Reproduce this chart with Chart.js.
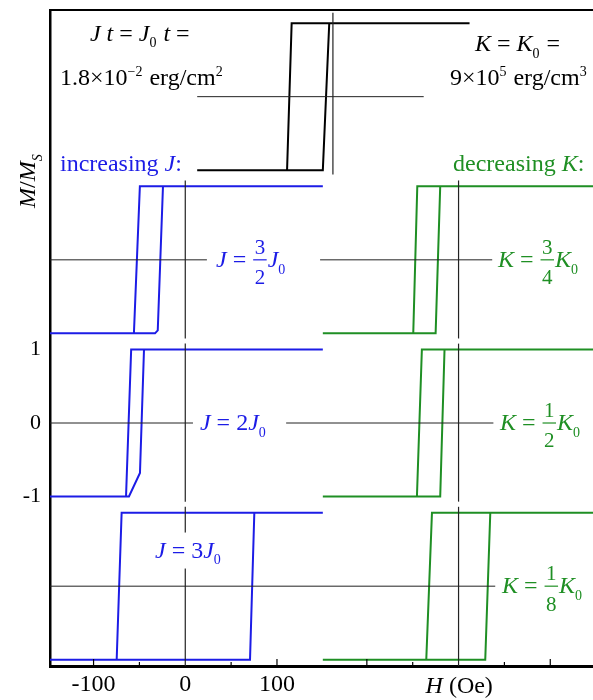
<!DOCTYPE html>
<html>
<head>
<meta charset="utf-8">
<script src="https://cdn.jsdelivr.net/npm/chart.js@4.4.1/dist/chart.umd.min.js"></script>
<style>
  html, body { margin: 0; padding: 0; background: #fff; }
</style>
</head>
<body>
<canvas id="loops" width="593" height="700"></canvas>
<script>
// vertical spacing between stacked panels (M/Ms units) and field offsets of the columns (Oe)
const ROW_STEP = 2.22;
const COL_MID = 161;
const COL_RIGHT = 298;

// hysteresis loops, points are [H (Oe), M/Ms]
const loopRef = [[149, 1], [-45, 1], [-50, -1], [-148, -1], [-11, -1], [-4, 1], [149, 1]];

const loopJ32 = [[150, 1], [-49.5, 1], [-56, -1], [-148, -1], [-33, -1], [-30, -0.96], [-24.3, 1], [150, 1]];
const loopJ2 = [[150, 1], [-59, 1], [-64.6, -1], [-148, -1], [-61.4, -1], [-49.4, -0.68], [-45, 1], [150, 1]];
const loopJ3 = [[150, 1], [-69.4, 1], [-74.8, -1], [-148, -1], [70.6, -1], [75.3, 1], [150, 1]];

const loopK34 = [[150, 1], [-45, 1], [-49.4, -1], [-148, -1], [-25, -1], [-20, 1], [150, 1]];
const loopK12 = [[150, 1], [-40, 1], [-45.4, -1], [-148, -1], [-20, -1], [-15.3, 1], [150, 1]];
const loopK18 = [[150, 1], [-29, 1], [-35.2, -1], [-148, -1], [29.1, -1], [34.6, 1], [150, 1]];

// zero axes of each panel: [row, H from, H to] and [row, H, M from, M to]
const zeroH = [
  [2, -148 + COL_MID, 99 + COL_MID],
  [1, -148, 23.6], [1, 147, 36.7 + COL_RIGHT],
  [0, -148, 8.4], [0, 110, 38 + COL_RIGHT],
  [-1, -148, 40 + COL_RIGHT]
];
const zeroV = [
  [2, COL_MID, -1.06, 1.14],
  [1, 0, -1.07, 1.08], [1, COL_RIGHT, -1.07, 1.08],
  [0, 0, -1.07, 1.08], [0, COL_RIGHT, -1.07, 1.08],
  [-1, 0, -1.09, 1.08], [-1, COL_RIGHT, -1.09, 1.08]
];

// axis ticks
const xTickLabels = [-100, 0, 100];
const xTicksMajor = [-100, 100, COL_RIGHT - 100, COL_RIGHT + 100];
const xTicksMinor = [-50, 50, COL_RIGHT - 50, COL_RIGHT + 50];
const yTickLabels = [-1, 0, 1];

const X_MIN = -147.5, X_MAX = 444.6;
const Y_MIN = -3.306, Y_MAX = 5.619;

const BLACK = "#000000";
const BLUE = "#1c1ce6";
const GREEN = "#1f8f24";
const SERIF = '"Liberation Serif", "DejaVu Serif", serif';

function loopData(points, col, row) {
  return points.map(p => ({ x: p[0] + col, y: p[1] + row * ROW_STEP }));
}

function lineSet(data, color, width) {
  return {
    data: data,
    showLine: true,
    borderColor: color,
    borderWidth: width,
    pointRadius: 0,
    tension: 0,
    fill: false
  };
}

const datasets = [];

zeroH.forEach(z => {
  datasets.push(lineSet([{ x: z[1], y: z[0] * ROW_STEP }, { x: z[2], y: z[0] * ROW_STEP }], "#222", 1));
});
zeroV.forEach(z => {
  datasets.push(lineSet([{ x: z[1], y: z[2] + z[0] * ROW_STEP }, { x: z[1], y: z[3] + z[0] * ROW_STEP }], "#222", 1.2));
});

datasets.push(lineSet(loopData(loopRef, COL_MID, 2), BLACK, 2));
datasets.push(lineSet(loopData(loopJ32, 0, 1), BLUE, 2));
datasets.push(lineSet(loopData(loopJ2, 0, 0), BLUE, 2));
datasets.push(lineSet(loopData(loopJ3, 0, -1), BLUE, 2));
datasets.push(lineSet(loopData(loopK34, COL_RIGHT, 1), GREEN, 2));
datasets.push(lineSet(loopData(loopK12, COL_RIGHT, 0), GREEN, 2));
datasets.push(lineSet(loopData(loopK18, COL_RIGHT, -1), GREEN, 2));

// text pieces: t = upright, i = italic, sub / sup, frac = [num, den]
const notes = [
  { x: -104, y: 5.30, color: BLACK, runs: [["i", "J"], ["t", " "], ["i", "t"], ["t", " = "], ["i", "J"], ["sub", "0"], ["t", " "], ["i", "t"], ["t", " ="]] },
  { x: -136.6, y: 4.70, color: BLACK, runs: [["t", "1.8×10"], ["sup", "−2"], ["t", " erg/cm"], ["sup", "2"]] },
  { x: 316, y: 5.16, color: BLACK, runs: [["i", "K"], ["t", " = "], ["i", "K"], ["sub", "0"], ["t", " ="]] },
  { x: 288.6, y: 4.69, color: BLACK, runs: [["t", "9×10"], ["sup", "5"], ["t", " erg/cm"], ["sup", "3"]] },
  { x: -136.6, y: 3.53, color: BLUE, runs: [["t", "increasing "], ["i", "J"], ["t", ":"]] },
  { x: 292, y: 3.53, color: GREEN, runs: [["t", "decreasing "], ["i", "K"], ["t", ":"]] },
  { x: 33.5, y: ROW_STEP, color: BLUE, runs: [["i", "J"], ["t", " = "], ["frac", "3", "2"], ["i", "J"], ["sub", "0"]] },
  { x: 341, y: ROW_STEP, color: GREEN, runs: [["i", "K"], ["t", " = "], ["frac", "3", "4"], ["i", "K"], ["sub", "0"]] },
  { x: 16, y: 0, color: BLUE, runs: [["i", "J"], ["t", " = 2"], ["i", "J"], ["sub", "0"]] },
  { x: 343.2, y: 0, color: GREEN, runs: [["i", "K"], ["t", " = "], ["frac", "1", "2"], ["i", "K"], ["sub", "0"]] },
  { x: -33, y: -1.735, color: BLUE, bg: true, runs: [["i", "J"], ["t", " = 3"], ["i", "J"], ["sub", "0"]] },
  { x: 345.4, y: -ROW_STEP, color: GREEN, runs: [["i", "K"], ["t", " = "], ["frac", "1", "8"], ["i", "K"], ["sub", "0"]] }
];

const TEXT_SIZE = 24;

function fontFor(kind, size) {
  if (kind === "i") return "italic " + size + "px " + SERIF;
  if (kind === "sub" || kind === "sup") return Math.round(size * 0.6) + "px " + SERIF;
  if (kind === "subi") return "italic " + Math.round(size * 0.6) + "px " + SERIF;
  if (kind === "frac") return Math.round(size * 0.86) + "px " + SERIF;
  return size + "px " + SERIF;
}

function runWidth(ctx, r, size) {
  ctx.font = fontFor(r[0], size);
  if (r[0] === "frac") {
    return Math.max(ctx.measureText(r[1]).width, ctx.measureText(r[2]).width) + 5;
  }
  return ctx.measureText(r[1]).width + (r[0] === "sup" || r[0] === "sub" ? 1 : 0);
}

function drawRuns(ctx, runs, x, y, size, color, bg) {
  const widths = runs.map(r => runWidth(ctx, r, size));
  const total = widths.reduce((a, b) => a + b, 0);
  if (bg) {
    ctx.fillStyle = "#fff";
    ctx.fillRect(x - 2, y - size * 0.75, total + 4, size * 1.5);
  }
  ctx.fillStyle = color;
  ctx.strokeStyle = color;
  ctx.textAlign = "left";
  ctx.textBaseline = "alphabetic";
  const base = y + size * 0.3;
  let cx = x;
  runs.forEach((r, i) => {
    ctx.font = fontFor(r[0], size);
    if (r[0] === "sub" || r[0] === "subi") {
      ctx.fillText(r[1], cx, base + size * 0.28);
    } else if (r[0] === "sup") {
      ctx.fillText(r[1], cx, base - size * 0.38);
    } else if (r[0] === "frac") {
      const w = widths[i];
      ctx.lineWidth = 1.2;
      ctx.beginPath();
      ctx.moveTo(cx + 1, y);
      ctx.lineTo(cx + w - 1, y);
      ctx.stroke();
      ctx.textAlign = "center";
      ctx.fillText(r[1], cx + w / 2, y - 6);
      ctx.fillText(r[2], cx + w / 2, y + size * 1.02);
      ctx.textAlign = "left";
    } else {
      ctx.fillText(r[1], cx, base);
    }
    cx += widths[i];
  });
}

const decorations = {
  id: "decorations",
  afterDraw(chart) {
    const ctx = chart.ctx;
    const xs = chart.scales.x;
    const ys = chart.scales.y;
    const area = chart.chartArea;
    ctx.save();

    // top frame line
    ctx.strokeStyle = BLACK;
    ctx.lineWidth = 2;
    ctx.beginPath();
    ctx.moveTo(area.left, area.top);
    ctx.lineTo(area.right, area.top);
    ctx.stroke();

    // inward tick marks on the field axis
    ctx.lineWidth = 1.2;
    xTicksMajor.forEach(v => {
      const px = xs.getPixelForValue(v);
      ctx.beginPath();
      ctx.moveTo(px, area.bottom);
      ctx.lineTo(px, area.bottom - 7);
      ctx.stroke();
    });
    xTicksMinor.forEach(v => {
      const px = xs.getPixelForValue(v);
      ctx.beginPath();
      ctx.moveTo(px, area.bottom);
      ctx.lineTo(px, area.bottom - 4);
      ctx.stroke();
    });

    notes.forEach(n => {
      drawRuns(ctx, n.runs, xs.getPixelForValue(n.x), ys.getPixelForValue(n.y), TEXT_SIZE, n.color, n.bg);
    });

    // axis titles
    drawRuns(ctx, [["i", "H"], ["t", " (Oe)"]], xs.getPixelForValue(COL_RIGHT) - 33, 686, 24, BLACK, false);

    ctx.translate(28, 176);
    ctx.rotate(-Math.PI / 2);
    drawRuns(ctx, [["i", "M"], ["t", "/"], ["i", "M"], ["subi", "S"]], -32, 0, 24, BLACK, false);

    ctx.restore();
  }
};

new Chart(document.getElementById("loops"), {
  type: "scatter",
  data: { datasets: datasets },
  options: {
    responsive: false,
    animation: false,
    layout: { padding: { top: 10, right: 0, left: 0, bottom: 0 } },
    plugins: {
      legend: { display: false },
      tooltip: { enabled: false }
    },
    scales: {
      x: {
        type: "linear",
        position: "bottom",
        min: X_MIN,
        max: X_MAX,
        afterBuildTicks: axis => { axis.ticks = xTickLabels.map(v => ({ value: v })); },
        afterFit: scale => {
          scale.height = 34;
          scale.paddingLeft = 0;
          scale.paddingRight = 0;
        },
        grid: { display: false, drawTicks: false },
        border: { display: true, color: BLACK, width: 3 },
        ticks: {
          color: BLACK,
          font: { family: SERIF, size: 24 },
          padding: 4,
          maxRotation: 0,
          autoSkip: false
        }
      },
      y: {
        type: "linear",
        min: Y_MIN,
        max: Y_MAX,
        afterBuildTicks: axis => { axis.ticks = yTickLabels.map(v => ({ value: v })); },
        afterFit: scale => {
          scale.width = 50;
          scale.paddingTop = 0;
          scale.paddingBottom = 0;
        },
        grid: { display: false, drawTicks: false },
        border: { display: true, color: BLACK, width: 2.5 },
        ticks: {
          color: BLACK,
          font: { family: SERIF, size: 22 },
          padding: 9
        }
      }
    }
  },
  plugins: [decorations]
});
</script>
</body>
</html>
